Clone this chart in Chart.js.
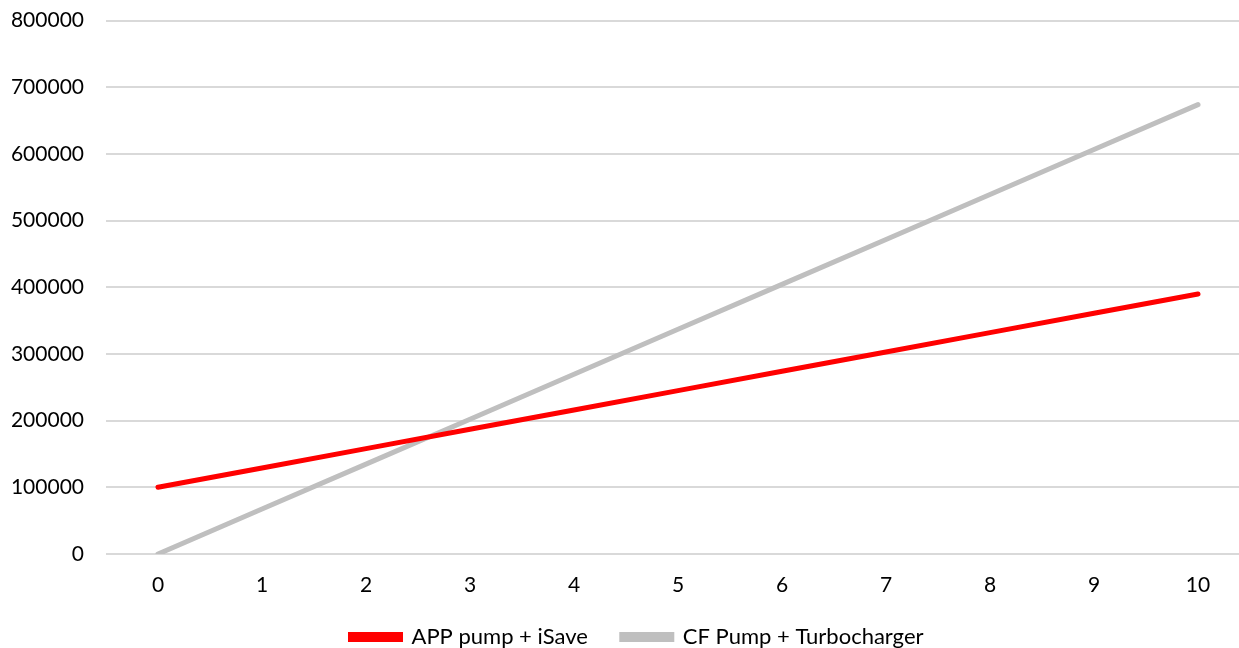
<!DOCTYPE html>
<html>
<head>
<meta charset="utf-8">
<script src="https://cdn.jsdelivr.net/npm/chart.js@4"></script>
<style>
  html, body { margin: 0; padding: 0; background: #fff; overflow: hidden; }
  #wrap { width: 1250px; height: 672px; margin-top: -14px; position: relative; }
</style>
</head>
<body>
<div id="wrap"><canvas id="chart"></canvas></div>
<script>
// Years on the x axis
const years = ["0", "1", "2", "3", "4", "5", "6", "7", "8", "9", "10"];

// Cumulative cost per option
const appPumpISave = [100000, 129000, 158000, 187000, 216000, 245000, 274000, 303000, 332000, 361000, 390000];
const cfPumpTurbo = [0, 67400, 134800, 202200, 269600, 337000, 404400, 471800, 539200, 606600, 674000];

const seriesNames = ["APP pump + iSave", "CF Pump + Turbocharger"];
const seriesColors = ["#FF0000", "#BFBFBF"];

const yMin = 0;
const yMax = 800000;
const yStep = 100000;

Chart.defaults.font.family = "Lato, 'Open Sans', sans-serif";
Chart.defaults.font.size = 21;
Chart.defaults.color = "#000";

// nudge the legend a bit to the right, like the original
const legendShift = {
  id: "legendShift",
  afterLayout(chart) {
    chart.legend.left += 12;
    chart.legend.right += 12;
  }
};

const ctx = document.getElementById("chart").getContext("2d");
new Chart(ctx, {
  type: "line",
  data: {
    labels: years,
    datasets: [
      {
        label: seriesNames[0],
        data: appPumpISave,
        borderColor: seriesColors[0],
        backgroundColor: seriesColors[0],
        borderWidth: 5,
        borderCapStyle: "round",
        pointRadius: 0,
        tension: 0
      },
      {
        label: seriesNames[1],
        data: cfPumpTurbo,
        borderColor: seriesColors[1],
        backgroundColor: seriesColors[1],
        borderWidth: 5,
        borderCapStyle: "round",
        pointRadius: 0,
        tension: 0
      }
    ]
  },
  options: {
    responsive: true,
    maintainAspectRatio: false,
    animation: false,
    layout: { padding: 0 },
    plugins: {
      tooltip: { enabled: false },
      legend: {
        position: "bottom",
        labels: {
          boxWidth: 50,
          boxHeight: 5,
          padding: 34,
          font: { size: 22 }
        }
      }
    },
    scales: {
      x: {
        offset: true,
        grid: { display: false, drawTicks: false },
        border: { display: false },
        ticks: { padding: 19, maxRotation: 0 },
        afterFit: scale => { scale.height = 38; }
      },
      y: {
        min: yMin,
        max: yMax,
        grid: { color: "#D9D9D9", lineWidth: 2, drawTicks: false },
        border: { display: false },
        ticks: { stepSize: yStep, padding: 22, callback: v => String(v) },
        afterFit: scale => { scale.width = 106; }
      }
    }
  },
  plugins: [legendShift]
});
</script>
</body>
</html>
